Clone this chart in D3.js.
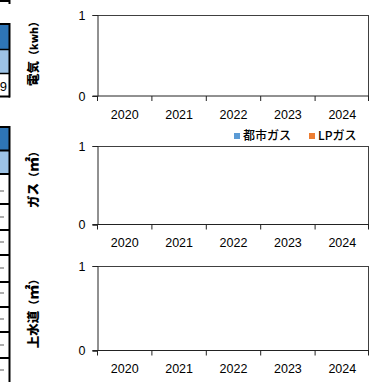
<!DOCTYPE html>
<html><head><meta charset="utf-8">
<script src="https://cdn.jsdelivr.net/npm/d3@7"></script>
<style>
html,body{margin:0;padding:0;background:#fff;overflow:hidden;}
svg{display:block;}
</style></head>
<body>
<svg id="c" width="370" height="382"></svg>
<script>
// ---- data ----
const years = ["2020", "2021", "2022", "2023", "2024"];
const yTicks = [0, 1];
const electricity = [null, null, null, null, null];
const gasCity = [null, null, null, null, null];
const gasLP = [null, null, null, null, null];
const water = [null, null, null, null, null];
const legendNames = ["都市ガス", "LPガス"];
const legendColors = ["#5B9BD5", "#ED7D31"];
const panelTitles = [["電気", "kwh"], ["ガス", "㎡"], ["上水道", "㎡"]];

const svg = d3.select("#c");
const latin = "'Liberation Sans', Arial, sans-serif";
const cjk = "'Noto Sans CJK JP', sans-serif";

// ---- left table fragments (cropped neighbour table) ----
const tbl = svg.append("g");
tbl.append("line").attr("x1", 0).attr("x2", 10).attr("y1", 1).attr("y2", 1).attr("stroke", "#000").attr("stroke-width", 2);
tbl.append("line").attr("x1", 9.5).attr("x2", 9.5).attr("y1", 0).attr("y2", 4).attr("stroke", "#000").attr("stroke-width", 2);
// table 1
tbl.append("rect").attr("x", 0).attr("y", 25).attr("width", 9).attr("height", 24).attr("fill", "#2E75B6");
tbl.append("rect").attr("x", 0).attr("y", 50).attr("width", 9).attr("height", 23).attr("fill", "#9DC3E6");
tbl.append("text").attr("x", 7).attr("y", 91).attr("text-anchor", "end").attr("font-family", latin).attr("font-size", 13).attr("fill", "#000").text("9");
[24, 49.5, 73.5, 96.5].forEach(y => tbl.append("line").attr("x1", 0).attr("x2", 10).attr("y1", y).attr("y2", y).attr("stroke", "#000").attr("stroke-width", y===24||y===96.5?2:1.5));
tbl.append("line").attr("x1", 9.5).attr("x2", 9.5).attr("y1", 23).attr("y2", 97.5).attr("stroke", "#000").attr("stroke-width", 2);
// table 2
tbl.append("rect").attr("x", 0).attr("y", 128).attr("width", 9).attr("height", 22).attr("fill", "#2E75B6");
tbl.append("rect").attr("x", 0).attr("y", 151).attr("width", 9).attr("height", 23).attr("fill", "#9DC3E6");
[127, 150.5, 174, 204, 230, 255, 282, 307, 332, 358].forEach(y => tbl.append("line").attr("x1", 0).attr("x2", 10).attr("y1", y).attr("y2", y).attr("stroke", "#000").attr("stroke-width", 2));
[191, 217, 242, 268, 293, 319, 345, 370].forEach(y => tbl.append("line").attr("x1", 0).attr("x2", 4).attr("y1", y).attr("y2", y).attr("stroke", "#777").attr("stroke-width", 1.2));
tbl.append("line").attr("x1", 9.5).attr("x2", 9.5).attr("y1", 126).attr("y2", 382).attr("stroke", "#000").attr("stroke-width", 2);

// ---- panels ----
const panels = [
  {title: panelTitles[0], top: 15, bottom: 96, series: [electricity], legend: false, ty: 51, us: 10.5},
  {title: panelTitles[1], top: 146, bottom: 224.5, series: [gasCity, gasLP], legend: true, ty: 177, us: 15},
  {title: panelTitles[2], top: 266, bottom: 350.5, series: [water], legend: false, ty: 311, us: 15}
];
const left = 97.5, right = 369.5;

panels.forEach(p => {
  const g = svg.append("g");
  const x = d3.scaleBand().domain(years).range([left, right]).paddingInner(0.4).paddingOuter(0.2);
  const y = d3.scaleLinear().domain([0, 1]).range([p.bottom, p.top]);

  // plot box (top and right border)
  g.append("line").attr("x1", left).attr("x2", right - 0.5).attr("y1", p.top + 0.5).attr("y2", p.top + 0.5).attr("stroke", "#404040");
  g.append("line").attr("x1", right - 1).attr("x2", right - 1).attr("y1", p.top).attr("y2", p.bottom).attr("stroke", "#404040");

  // bars (none with values)
  const xs = d3.scaleBand().domain(d3.range(p.series.length)).range([0, x.bandwidth()]);
  p.series.forEach((s, si) => {
    g.selectAll(null).data(years.map((yr, i) => ({yr, v: s[i]})).filter(d => d.v != null))
      .enter().append("rect")
      .attr("x", d => x(d.yr) + xs(si)).attr("width", xs.bandwidth())
      .attr("y", d => y(d.v)).attr("height", d => y(0) - y(d.v))
      .attr("fill", legendColors[si]);
  });

  // y axis
  const ya = g.append("g").attr("transform", `translate(${left},0)`)
    .call(d3.axisLeft(y).tickValues(yTicks).tickFormat(d3.format("d")).tickSizeOuter(0).tickSize(5).tickPadding(7));
  ya.select(".domain").attr("stroke", "#222");
  ya.selectAll(".tick line").attr("stroke", "#222");
  ya.selectAll("text").attr("font-family", latin).attr("font-size", 12.5).attr("fill", "#000");

  // x axis: ticks at category boundaries
  const xa = g.append("g").attr("transform", `translate(0,${p.bottom})`);
  xa.append("line").attr("x1", left - 5).attr("x2", right - 0.5).attr("y1", 0).attr("y2", 0).attr("stroke", "#222");
  const bounds = years.map(yr => x(yr) - x.step() * x.paddingInner() / 2);
  bounds.push(right - 1);
  bounds[0] = left;
  xa.selectAll(".bt").data(bounds).enter().append("line")
    .attr("x1", d => d).attr("x2", d => d).attr("y1", 0).attr("y2", 5).attr("stroke", "#222");
  xa.selectAll(".xl").data(years).enter().append("text")
    .attr("x", d => x(d) + x.bandwidth() / 2).attr("y", 18.5).attr("dy", "0.35em")
    .attr("text-anchor", "middle").attr("font-family", latin).attr("font-size", 12.5).attr("fill", "#000")
    .text(d => d);

  // title
  const t = g.append("text").attr("transform", `translate(32,${p.ty}) rotate(-90)`)
    .attr("text-anchor", "middle").attr("dy", "0.35em")
    .attr("font-family", cjk).attr("font-weight", 900).attr("fill", "#000");
  t.append("tspan").attr("font-size", 12.5).text(p.title[0]);
  t.append("tspan").attr("font-size", 11).text("（");
  t.append("tspan").attr("font-size", p.us).text(p.title[1]);
  t.append("tspan").attr("font-size", 11).text("）");

  if (p.legend) {
    const lg = g.append("g").attr("transform", `translate(0,${p.top - 10})`);
    const pos = [234, 309];
    legendNames.forEach((n, i) => {
      lg.append("rect").attr("x", pos[i]).attr("y", -3).attr("width", 6).attr("height", 6).attr("fill", legendColors[i]);
      lg.append("text").attr("x", pos[i] + 9).attr("y", 0).attr("dy", "0.35em")
        .attr("font-family", cjk).attr("font-weight", 500).attr("font-size", 12).attr("fill", "#000").text(n);
    });
  }
});
</script>
</body></html>
